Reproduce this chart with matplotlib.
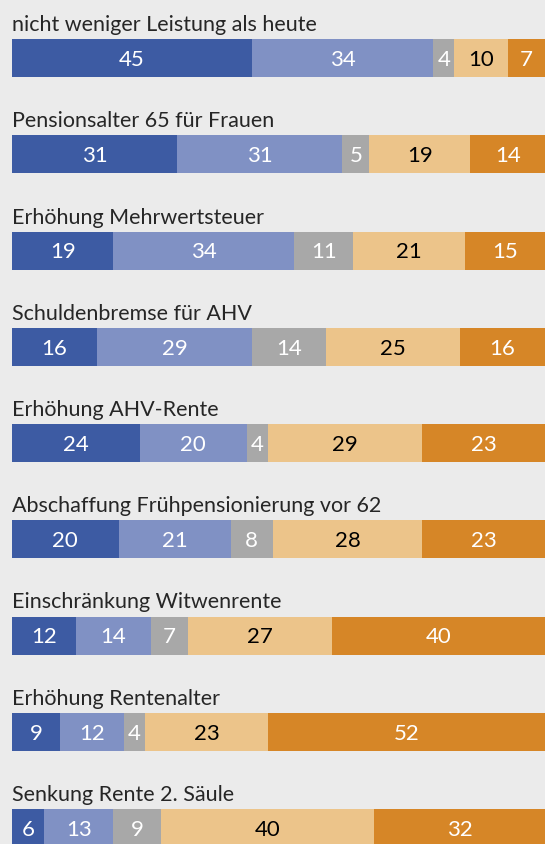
import matplotlib.pyplot as plt
import numpy as np

labels = [
    "nicht weniger Leistung als heute",
    "Pensionsalter 65 für Frauen",
    "Erhöhung Mehrwertsteuer",
    "Schuldenbremse für AHV",
    "Erhöhung AHV-Rente",
    "Abschaffung Frühpensionierung vor 62",
    "Einschränkung Witwenrente",
    "Erhöhung Rentenalter",
    "Senkung Rente 2. Säule",
]
sehr_dafuer = [45, 31, 19, 16, 24, 20, 12, 9, 6]
eher_dafuer = [34, 31, 34, 29, 20, 21, 14, 12, 13]
weiss_nicht = [4, 5, 11, 14, 4, 8, 7, 4, 9]
eher_dagegen = [10, 19, 21, 25, 29, 28, 27, 23, 40]
sehr_dagegen = [7, 14, 15, 16, 23, 23, 40, 52, 32]

series = [sehr_dafuer, eher_dafuer, weiss_nicht, eher_dagegen, sehr_dagegen]
colors = ["#3d5ba3", "#8091c4", "#a8a8a8", "#ecc48a", "#d68627"]
text_colors = ["white", "white", "white", "black", "white"]
bg = "#ebebeb"

plt.rcParams["font.family"] = ["Lato", "DejaVu Sans"]

fig = plt.figure(figsize=(5.45, 8.45), dpi=100, facecolor=bg)
ax = fig.add_axes([0, 0, 1, 1])
ax.set_facecolor(bg)

pitch = 96.25
bar_h = 38
y = 59 + pitch * np.arange(len(labels))

left = np.zeros(len(labels))
for vals, c, tc in zip(series, colors, text_colors):
    vals = np.array(vals)
    ax.barh(y, vals, left=left, height=bar_h, color=c, linewidth=0)
    for yi, l, v in zip(y, left, vals):
        ax.text(l + v / 2, yi + 1, str(v), ha="center", va="center",
                color=tc, fontsize=16)
    left += vals

for yi, lab in zip(y, labels):
    ax.text(0, yi - bar_h / 2 - 15, lab, ha="left", va="center",
            color="#262626", fontsize=15.5)

ax.set_xlim(-12 / 5.33, 100)
ax.set_ylim(845, 0)
ax.axis("off")

fig.savefig("out.png", dpi=100, facecolor=bg)
